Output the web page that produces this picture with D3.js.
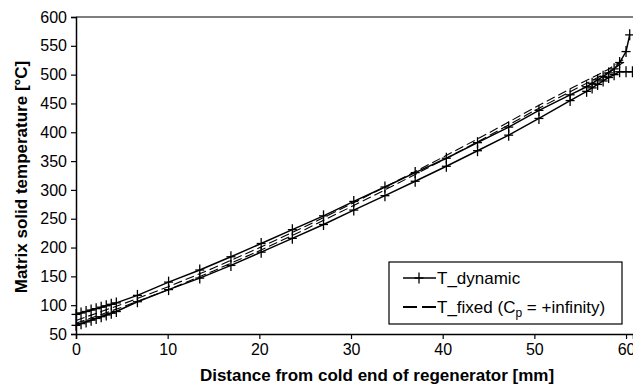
<!DOCTYPE html>
<meta charset="utf-8">
<style>
body { margin: 0; background: #fff; }
text { font-family: "Liberation Sans", Arial, sans-serif; fill: #000; }
.tick text { font-size: 16px; }
.axisTitle { font-size: 17px; font-weight: bold; }
.legendLabel { font-size: 17px; }
.solid { fill: none; stroke: #000; stroke-width: 1.5px; }
.dashed { fill: none; stroke: #000; stroke-width: 1.1px; stroke-dasharray: 9,4; }
.marker { stroke: #000; stroke-width: 1.3px; }
</style>
<body>
<script src="https://d3js.org/d3.v7.min.js"></script>
<script>

// distance along regenerator [mm] for the two T_dynamic branches
const xDyn = [0, 0.55, 1.1, 1.65, 2.2, 2.75, 3.3, 3.85, 4.4, 6.7, 10.1, 13.5, 16.9, 20.2, 23.6,
              27.0, 30.3, 33.7, 37.0, 40.4, 43.8, 47.2, 50.5, 53.9, 55.7, 56.3, 56.9, 57.5,
              58.1, 58.7, 59.3, 60.0, 60.4];
const dynUpper = [84, 86.5, 89, 91.5, 94, 96.5, 99, 101.5, 104, 117, 140, 161, 184, 207, 231,
                  255, 280, 305, 330, 355, 382, 409, 438, 465, 479, 485, 491, 497,
                  503, 510, 521, 540, 569];
const xDynLow = [0, 0.55, 1.1, 1.65, 2.2, 2.75, 3.3, 3.85, 4.4, 6.7, 10.1, 13.5, 16.9, 20.2, 23.6,
                 27.0, 30.3, 33.7, 37.0, 40.4, 43.8, 47.2, 50.5, 53.9, 55.7, 56.3, 56.9, 57.5,
                 58.1, 58.7, 59.3, 60.0, 60.7];
const dynLower = [65, 68, 71, 74, 77, 80, 83, 86, 89, 106, 127, 147, 169, 192, 216,
                  240, 265, 290, 315, 341, 368, 395, 424, 455, 471, 477, 483, 489,
                  495, 500, 505, 505, 505];

// T_fixed (C_p = +infinity), two close branches
const xFix = [0, 5, 10, 15, 20, 25, 30, 35, 40, 45, 50, 55, 58, 59.7];
const fixUpper = [73.5, 101.5, 131.5, 164.5, 199.5, 236.5, 275.5, 315.5, 356.5, 398.5, 442.5, 484.5, 508.5, 526];
const fixLower = [68.5, 96.5, 126.5, 159.5, 194.5, 231.5, 270.5, 310.5, 351.5, 393.5, 437.5, 479.5, 503.5, 521];

const xTicks = [0, 10, 20, 30, 40, 50, 60];
const yTicks = [50, 100, 150, 200, 250, 300, 350, 400, 450, 500, 550, 600];

const width = 633, height = 390;

const svg = d3.select("body").append("svg")
    .attr("width", width)
    .attr("height", height);

const x = d3.scaleLinear().domain([0, 60.76]).range([76, 633]);
const y = d3.scaleLinear().domain([50, 600]).range([334, 17]);

// top frame line
svg.append("line")
    .attr("x1", x(0)).attr("x2", width)
    .attr("y1", y(600)).attr("y2", y(600))
    .attr("stroke", "#000").attr("stroke-width", 1.2);

svg.append("g")
    .attr("transform", `translate(${x(0)},0)`)
    .call(d3.axisLeft(y).tickValues(yTicks).tickSize(5).tickPadding(4))
    .call(g => g.select(".domain").attr("stroke-width", 1.5));

svg.append("g")
    .attr("transform", `translate(0,${y(50)})`)
    .call(d3.axisBottom(x).tickValues(xTicks).tickSize(5).tickPadding(5))
    .call(g => g.select(".domain").attr("stroke-width", 1.5));

svg.selectAll(".tick line").attr("stroke-width", 1.2);

const line = d3.line().x(d => x(d[0])).y(d => y(d[1]));

const fixSeries = [d3.zip(xFix, fixUpper), d3.zip(xFix, fixLower)];
const dynSeries = [d3.zip(xDyn, dynUpper), d3.zip(xDynLow, dynLower)];

svg.append("g").selectAll("path")
    .data(fixSeries)
    .join("path")
    .attr("class", "dashed")
    .attr("d", line);

svg.append("g").selectAll("path")
    .data(dynSeries)
    .join("path")
    .attr("class", "solid")
    .attr("d", line);

function plus(sel, hw, hh) {
    sel.append("line").attr("class", "marker")
        .attr("x1", -hw).attr("x2", hw).attr("y1", 0).attr("y2", 0);
    sel.append("line").attr("class", "marker")
        .attr("x1", 0).attr("x2", 0).attr("y1", -hh).attr("y2", hh);
}

svg.append("g").selectAll("g")
    .data(dynSeries.flat())
    .join("g")
    .attr("transform", d => `translate(${x(d[0])},${y(d[1])})`)
    .call(plus, 4.5, 5.5);

// axis titles
svg.append("text")
    .attr("class", "axisTitle")
    .attr("text-anchor", "middle")
    .attr("x", 377).attr("y", 381)
    .text("Distance from cold end of regenerator [mm]");

svg.append("text")
    .attr("class", "axisTitle")
    .attr("text-anchor", "middle")
    .attr("transform", "translate(27,177) rotate(-90)")
    .text("Matrix solid temperature [°C]");

// legend
const legend = svg.append("g").attr("transform", "translate(389,262)");
legend.append("rect")
    .attr("width", 233).attr("height", 62)
    .attr("fill", "#fff").attr("stroke", "#000").attr("stroke-width", 1.2);

const row1 = legend.append("g").attr("transform", "translate(0,16)");
row1.append("line").attr("x1", 14).attr("x2", 47)
    .attr("stroke", "#000").attr("stroke-width", 1.5);
row1.append("g").attr("transform", "translate(30,0)").call(plus, 4.5, 5.5);
row1.append("text").attr("class", "legendLabel")
    .attr("x", 48).attr("dy", "0.35em").text("T_dynamic");

const row2 = legend.append("g").attr("transform", "translate(0,45)");
row2.append("line").attr("x1", 14).attr("x2", 47)
    .attr("stroke", "#000").attr("stroke-width", 2).attr("stroke-dasharray", "14,5");
const t2 = row2.append("text").attr("class", "legendLabel")
    .attr("x", 48).attr("dy", "0.35em");
t2.append("tspan").text("T_fixed (C");
t2.append("tspan").attr("dy", 4).attr("font-size", "12px").text("p");
t2.append("tspan").attr("dy", -4).text(" =  +infinity)");

</script>
